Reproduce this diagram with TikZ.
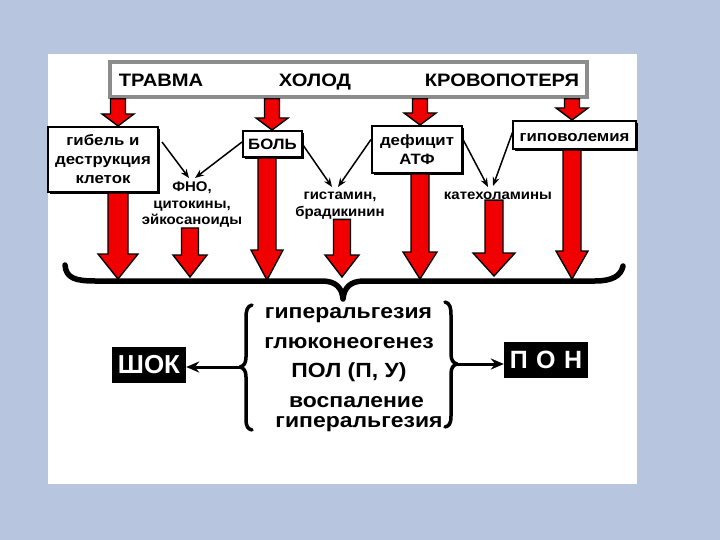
\documentclass[tikz,border=0pt]{standalone}
\usepackage{fontspec}
\setmainfont{Liberation Sans}
\newfontfamily\stA{Liberation Sans}[FakeStretch=1.12]
\newfontfamily\stB{Liberation Sans}[FakeStretch=1.07]
\usetikzlibrary{arrows.meta,calc,shadows}
\definecolor{bgblue}{RGB}{183,198,222}
\definecolor{arrred}{RGB}{240,0,0}
\definecolor{boxgray}{RGB}{140,140,140}
\tikzset{
  redarr/.style={fill=arrred,draw=black,line width=1.4pt,line join=miter},
  boxb/.style={draw=black,line width=2pt,fill=white,inner sep=0pt,align=center,
    general shadow={fill=black,shadow xshift=2pt,shadow yshift=-2pt},
    font=\stA\bfseries\fontsize{15}{19}\selectfont},
  lbl/.style={inner sep=0pt,align=center,anchor=north,font=\stB\bfseries\fontsize{14}{16.5}\selectfont},
  toplbl/.style={inner sep=0pt,anchor=base,font=\stA\bfseries\fontsize{18}{20}\selectfont},
  midlbl/.style={inner sep=0pt,anchor=base,font=\stA\bfseries\fontsize{20.5}{22}\selectfont},
  thinarr/.style={draw=black,line width=1.5pt,-{Stealth[length=9pt,width=7pt]}},
  outarr/.style={draw=black,line width=3pt,-{Stealth[length=13pt,width=11pt]}},
  blackbox/.style={fill=black,text=white,inner sep=0pt,font=\bfseries\fontsize{26}{28}\selectfont},
  bracestyle/.style={draw=black,line cap=round,line join=round}
}
\newcommand\bigarrow[6]{%
  \draw[redarr] let \p1=(#2), \p2=(#3), \p3=(#1,0) in
    (\x3-#4,\y1) -- (\x3-#4,\y2+#6) -- (\x3-#5,\y2+#6) -- (\x3,\y2)
    -- (\x3+#5,\y2+#6) -- (\x3+#4,\y2+#6) -- (\x3+#4,\y1) -- cycle;}
\begin{document}
\begin{tikzpicture}[x=1pt,y=-1pt]
\useasboundingbox (0,0) rectangle (720,540);
\fill[bgblue] (0,0) rectangle (720,540);
\fill[white] (48,54) rectangle (637,484);

% top box
\node[draw=boxgray,line width=3.5pt,fill=white,minimum width=477pt,minimum height=35pt,inner sep=0pt] (top) at (348.5,79.5) {};
\node[toplbl] (trav) at (161,87) {ТРАВМА};
\node[toplbl] (hol) at (315,87) {ХОЛОД};
\node[toplbl] (krov) at (502,87) {КРОВОПОТЕРЯ};

% second row boxes
\node[boxb,minimum width=110pt,minimum height=65pt] (gib) at (103,159.5) {гибель и\\деструкция\\клеток};
\node[boxb,minimum width=59pt,minimum height=26pt] (bol) at (272.5,144) {БОЛЬ};
\node[boxb,minimum width=90pt,minimum height=47pt] (atf) at (417,149.5) {дефицит\\АТФ};
\node[boxb,minimum width=123pt,minimum height=28pt,text height=14pt,text depth=0pt] (gipo) at (574.5,135) {гиповолемия};

% labels
\node[lbl] (fno) at (192,182) {ФНО,\\цитокины,\\эйкосаноиды};
\node[lbl] (hist) at (340,192) {гистамин,\\брадикинин};
\node[lbl] (kat) at (498,192) {катехоламины};

% top red arrows
\bigarrow{118}{top.south}{gib.north}{7.5pt}{16pt}{12pt}
\bigarrow{272}{top.south}{bol.north}{7.5pt}{16pt}{12pt}
\bigarrow{420}{top.south}{atf.north}{7.5pt}{16pt}{12pt}
\bigarrow{572}{top.south}{gipo.north}{7.5pt}{16pt}{12pt}

% brace coordinates
\coordinate (b1) at (118,279);
\coordinate (b2) at (190,277);
\coordinate (b3) at (267,280);
\coordinate (b4) at (342,277);
\coordinate (b5) at (420,279);
\coordinate (b6) at (494,276);
\coordinate (b7) at (572,279);

% lower red arrows
\bigarrow{118}{gib.south}{b1}{10pt}{20pt}{25pt}
\bigarrow{190}{fno.south}{b2}{8.5pt}{17pt}{22pt}
\bigarrow{267}{bol.south}{b3}{9pt}{16pt}{30pt}
\bigarrow{342}{hist.south}{b4}{8.5pt}{17pt}{22pt}
\bigarrow{420}{atf.south}{b5}{9pt}{17pt}{27pt}
\bigarrow{494}{kat.south}{b6}{9pt}{21pt}{23pt}
\bigarrow{572}{gipo.south}{b7}{9pt}{16pt}{28pt}

% thin arrows
\draw[thinarr] ($(gib.north east)+(3,16)$) -- ($(fno.north)+(-3,-4)$);
\draw[thinarr] ($(bol.west)+(0,-2)$) -- ($(fno.north)+(3,-4)$);
\draw[thinarr] ($(bol.east)+(0,1)$) -- ($(hist.north)+(-8,-5)$);
\draw[thinarr] ($(atf.west)+(0,-10)$) -- ($(hist.north)+(-2,-5)$);
\draw[thinarr] ($(atf.east)+(-1,-12)$) -- ($(kat.north)+(-10,-5)$);
\draw[thinarr] ($(gipo.west)+(1,-4)$) -- ($(kat.north)+(-5,-6)$);

% big horizontal brace
\draw[bracestyle,line width=5.5pt] (65,265) .. controls (66,278) and (75,281) .. (95,281)
  -- (322,281) .. controls (336,281) and (342,288) .. (343,299)
  .. controls (344,288) and (350,281) .. (364,281) -- (595,281)
  .. controls (612,281) and (621,276) .. (623,266);

% middle text
\node[midlbl] (m1) at (348.5,318) {гиперальгезия};
\node[midlbl] (m2) at (349,348) {глюконеогенез};
\node[midlbl] (m3) at (349,377) {ПОЛ (П, У)};
\node[midlbl] (m4) at (356.5,407) {воспаление};
\node[midlbl] (m5) at (359,427) {гиперальгезия};

% vertical braces
\draw[bracestyle,line width=3.5pt] (252,305) .. controls (247,306) and (246,311) .. (246,318)
  -- (246,357) .. controls (246,363) and (244,366) .. (240,367)
  .. controls (244,368) and (246,371) .. (246,377) -- (246,419)
  .. controls (246,427) and (248,429) .. (252,430);
\draw[bracestyle,line width=3.5pt] (445,302) .. controls (450,303) and (451,308) .. (451,315)
  -- (451,354) .. controls (451,360) and (453,363) .. (457,364)
  .. controls (453,365) and (451,368) .. (451,374) -- (451,416)
  .. controls (451,424) and (449,426) .. (445,427);
\coordinate (lb) at (240,367);
\coordinate (rb) at (457,364);

% outcome boxes
\node[blackbox,minimum width=74pt,minimum height=36pt] (shok) at (149,365) {ШОК};
\node[blackbox,minimum width=84pt,minimum height=36pt,font=\bfseries\fontsize{25}{27}\selectfont] (pon) at (546,360) {П\,\,О\,\,Н};

\draw[outarr] (lb) -- (lb -| shok.east);
\draw[outarr] (rb) -- (rb -| pon.west);
\end{tikzpicture}
\end{document}
